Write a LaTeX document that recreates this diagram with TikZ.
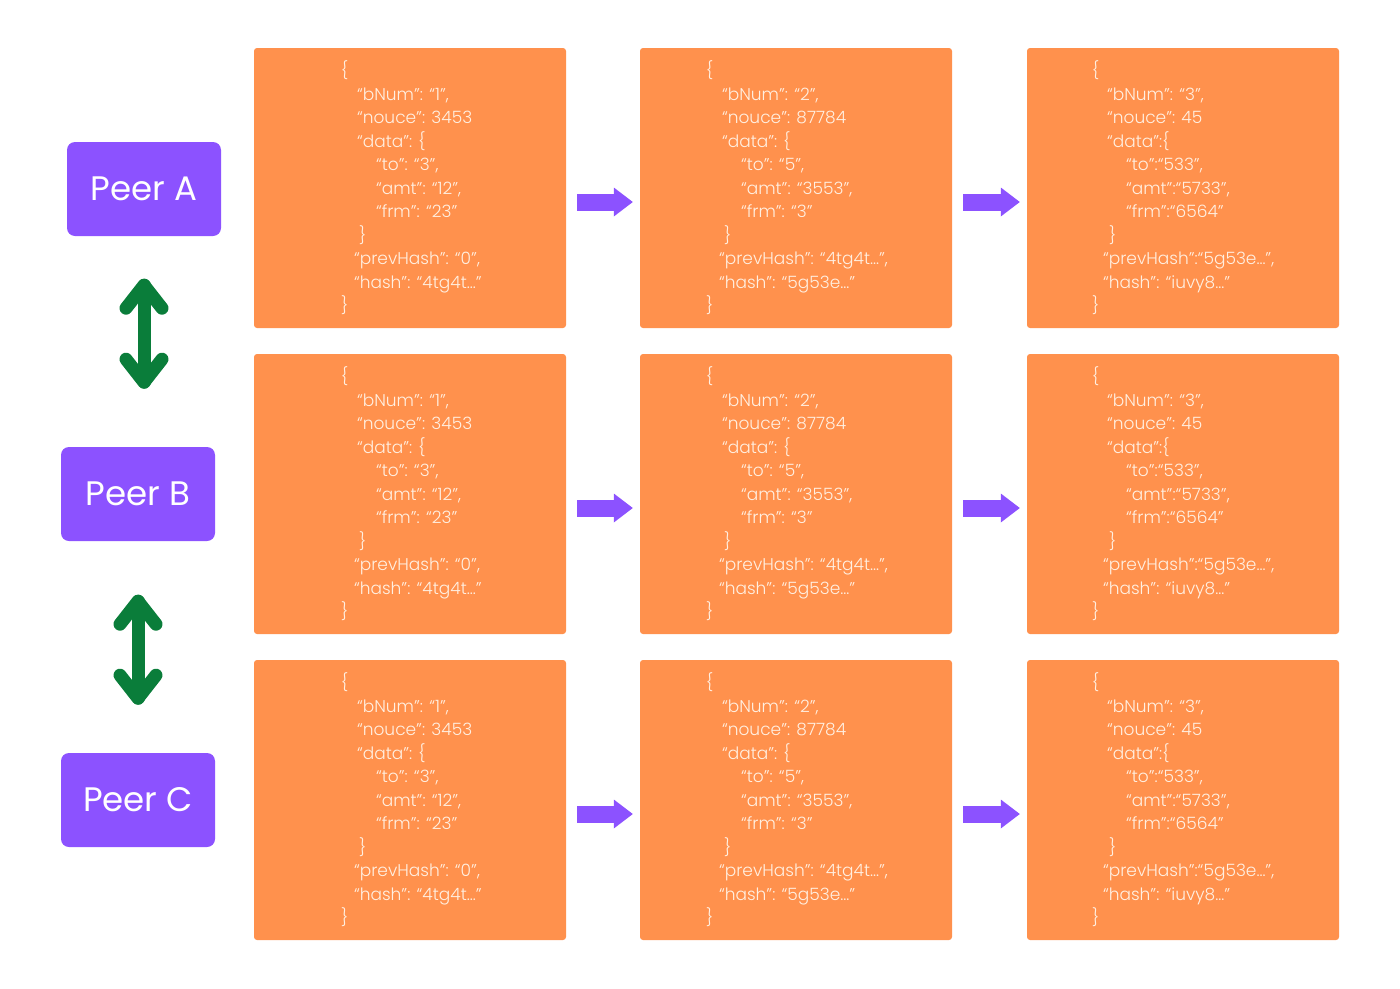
\documentclass[tikz,border=0pt]{standalone}
\usepackage{fontspec}
\setmainfont{Poppins}
\newfontfamily\jsonfont{Poppins Light}
\usetikzlibrary{calc,arrows.meta}

\definecolor{blockorange}{HTML}{FF914D}
\definecolor{peerpurple}{HTML}{8C52FF}
\definecolor{syncgreen}{HTML}{0A7D3A}
\definecolor{jsontext}{HTML}{FFF0E2}

% Block contents
\newcommand{\jsonone}{\{\\
\hspace*{16pt}“bNum”: “1”,\\
\hspace*{16pt}“nouce”: 3453\\
\hspace*{16pt}“data”: \{\\
\hspace*{35pt}“to”: “3”,\\
\hspace*{35pt}“amt”: “12”,\\
\hspace*{35pt}“frm”: “23”\\
\hspace*{18pt}\}\\
\hspace*{13pt}“prevHash”: “0”,\\
\hspace*{13pt}“hash”: “4tg4t…”\\
\}}
\newcommand{\jsontwo}{\{\\
\hspace*{16pt}“bNum”: “2”,\\
\hspace*{16pt}“nouce”: 87784\\
\hspace*{16pt}“data”: \{\\
\hspace*{35pt}“to”: “5”,\\
\hspace*{35pt}“amt”: “3553”,\\
\hspace*{35pt}“frm”: “3”\\
\hspace*{18pt}\}\\
\hspace*{13pt}“prevHash”: “4tg4t…”,\\
\hspace*{13pt}“hash”: “5g53e…”\\
\}}
\newcommand{\jsonthree}{\{\\
\hspace*{15pt}“bNum”: “3”,\\
\hspace*{15pt}“nouce”: 45\\
\hspace*{15pt}“data”:\{\\
\hspace*{34pt}“to”:“533”,\\
\hspace*{34pt}“amt”:“5733”,\\
\hspace*{34pt}“frm”:“6564”\\
\hspace*{17pt}\}\\
\hspace*{11pt}“prevHash”:“5g53e…”,\\
\hspace*{11pt}“hash”: “iuvy8…”\\
\}}

\begin{document}
\begin{tikzpicture}[x=1pt,y=-1pt,
    block/.style={fill=blockorange,rounded corners=3pt,minimum width=312pt,minimum height=280pt,inner sep=0pt},
    json/.style={anchor=north west,inner sep=0pt,align=left,text=jsontext,font=\jsonfont\fontsize{17}{23.5}\selectfont},
    peer/.style={fill=peerpurple,rounded corners=8pt,minimum width=154pt,minimum height=94pt,text=white,font=\fontsize{34}{40}\selectfont},
    link/.style={draw=peerpurple,line width=17pt,-{Triangle[length=19pt,width=29pt,line width=0pt]}},
    sync/.style={draw=syncgreen,line width=13pt,line cap=round,line join=round}]
    \useasboundingbox (0,0) rectangle (1400,988);

    % Chains of blocks, one row per peer
    \foreach \r/\y in {1/188,2/494,3/800}{
        \node[block] (b\r1) at (410,\y) {};
        \node[block] (b\r2) at (796,\y) {};
        \node[block] (b\r3) at (1183,\y) {};
        \node[json] (t\r1) at ([shift={(87,13)}]b\r1.north west) {\jsonone};
        \node[json] (t\r2) at ([shift={(66,13)}]b\r2.north west) {\jsontwo};
        \node[json] (t\r3) at ([shift={(65,13)}]b\r3.north west) {\jsonthree};
        \draw[link] ([shift={(11,14)}]b\r1.east) -- ([shift={(-7,14)}]b\r2.west);
        \draw[link] ([shift={(11,14)}]b\r2.east) -- ([shift={(-7,14)}]b\r3.west);
    }

    % Peers
    \node[peer] (pa) at (144,189) {Peer A};
    \node[peer] (pb) at (138,494) {Peer B};
    \node[peer] (pc) at (138,800) {Peer C};

    % Sync arrows between peers
    \coordinate (ab1) at ($(pa.south)+(0,49)$);
    \coordinate (ab2) at ($(pa.south)+(0,146)$);
    \coordinate (bc1) at ($(pb.south)+(0,60)$);
    \coordinate (bc2) at ($(pb.south)+(0,157)$);
    \draw[sync] (ab1) -- (ab2);
    \draw[sync] ($(ab1)+(-18,23)$) -- (ab1) -- ($(ab1)+(18,23)$);
    \draw[sync] ($(ab2)+(-18,-23)$) -- (ab2) -- ($(ab2)+(18,-23)$);
    \draw[sync] (bc1) -- (bc2);
    \draw[sync] ($(bc1)+(-18,23)$) -- (bc1) -- ($(bc1)+(18,23)$);
    \draw[sync] ($(bc2)+(-18,-23)$) -- (bc2) -- ($(bc2)+(18,-23)$);
\end{tikzpicture}
\end{document}
